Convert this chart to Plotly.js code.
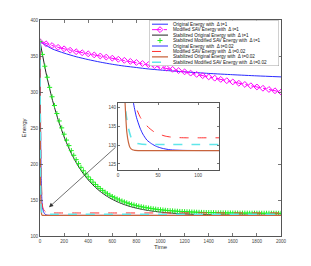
<!DOCTYPE html>
<html><head><meta charset="utf-8">
<script src="https://cdn.plot.ly/plotly-3.0.1.min.js"></script>
<style>html,body{margin:0;padding:0;background:#fff}#c{width:311px;height:266px}</style>
</head><body><div id="c"></div>
<script>
// ---- data ----
// dt = 1 series
const tBlue1 = [0,100,200,300,400,500,600,700,800,900,1000,1200,1400,1600,1800,2000];
const eBlue1 = [370,360,354,349,345,341.5,338.5,336,334,332,330.5,328,325.8,324,322.4,321];

const tMag1 = [0,50,100,150,200,250,300,350,400,450,500,550,600,650,700,750,800,850,900,950,1000,1050,1100,1150,1200,1250,1300,1350,1400,1450,1500,1550,1600,1650,1700,1750,1800,1850,1900,1950,2000];
const eMag1 = [370,367,364.5,362,360,358,356,354.5,353,351.5,350,348.5,347,345.5,344,342.5,341,339.5,338,336.5,335,333.2,331.5,329.7,328,326.2,324.5,322.7,321,319.2,317.5,315.7,314,312.2,310.5,308.7,307,305.2,303.5,301.7,300];

const tBlack1 = [0,50,100,150,200,250,300,350,400,450,500,550,600,650,700,750,800,850,900,950,1000,1100,1200,1300,1400,1500,1600,1700,1800,1900,2000];
const eBlack1 = [370,326.6,290.9,261.7,237.7,218.1,202,188.8,178,169.1,161.8,155.8,150.9,146.9,143.6,140.9,138.7,136.9,135.4,134.2,133.2,131.7,130.7,130,129.5,129.2,129,128.9,128.8,128.7,128.7];

const tGreen1 = [0,20,40,60,80,100,120,140,160,180,200,220,240,260,280,300,320,340,360,380,400,420,440,460,480,500,520,540,560,580,600,620,640,660,680,700,720,740,760,780,800,820,840,860,880,900,920,940,960,980,1000,1020,1040,1060,1080,1100,1120,1140,1160,1180,1200,1220,1240,1260,1280,1300,1320,1340,1360,1380,1400,1420,1440,1460,1480,1500,1520,1540,1560,1580,1600,1620,1640,1660,1680,1700,1720,1740,1760,1780,1800,1820,1840,1860,1880,1900,1920,1940,1960,1980,2000];
const eGreen1 = [370,352.2,335.8,320.5,306.4,293.4,281.3,270.1,259.8,250.2,241.4,233.2,225.6,218.6,212.1,206.1,200.5,195.3,190.6,186.2,182.1,178.3,174.8,171.6,168.6,165.8,163.3,160.9,158.7,156.7,154.8,153.1,151.5,150,148.6,147.3,146.1,145,144,143.1,142.2,141.4,140.7,140,139.4,138.8,138.3,137.7,137.3,136.8,136.4,136.1,135.7,135.4,135.1,134.9,134.6,134.4,134.1,134,133.8,133.6,133.5,133.3,133.2,133,132.9,132.8,132.7,132.6,132.5,132.4,132.4,132.3,132.2,132.2,132.1,132.1,132,132,131.9,131.9,131.9,131.8,131.8,131.8,131.8,131.7,131.7,131.7,131.7,131.7,131.6,131.6,131.6,131.6,131.6,131.6,131.6,131.5,131.5];

// dt = 0.02 series
const tBlue2 = [0,2,4,6,8,10,12,15,19,23,27.5,31,36,42,48,55,65,80,100,150,300,600,1000,1500,2000];
const eBlue2 = [370,320,270,230,200,180,165,152,141.7,137.5,134.6,133,131.4,130.4,129.7,129.2,128.8,128.65,128.6,128.6,128.6,128.6,128.6,128.6,128.6];

const tRed2 = [0,2,4,6,8,10,12,15,18,21,24,28,32,36,40,45,50,55,60,70,85,100,150,300,600,1000,1500,2000];
const eRed2 = [370,330,285,245,215,192,175,160,148,141.5,139.3,137.4,136.2,135.2,134.4,133.6,133.1,132.7,132.4,132.1,132,132,132,132,132,132,132,132];

const tBrown2 = [0,2,4,6,8,9,10,11,13,15,18,21,25,30,50,100,300,1000,2000];
const eBrown2 = [370,260,195,160,145,140.5,136.5,133.5,130.8,129.4,128.8,128.65,128.6,128.6,128.6,128.6,128.6,128.6,128.6];

const tCyan2 = [0,2,4,6,8,10,13,16,19,24,30,40,60,100,300,1000,2000];
const eCyan2 = [370,280,215,175,144.5,138.5,134.6,132.3,131.1,130.5,130.3,130.2,130.2,130.2,130.2,130.2,130.2];

const legendLabels = [
  "Original Energy with  \u0394 t=1",
  "Modified SAV Energy with  \u0394 t=1",
  "Stabilized Original Energy with  \u0394 t=1",
  "Stabilized Modified SAV Energy with  \u0394 t=1",
  "Original Energy with  \u0394 t=0.02",
  "Modified SAV Energy with  \u0394 t=0.02",
  "Stabilized Original Energy with  \u0394 t=0.02",
  "Stabilized Modified SAV Energy with  \u0394 t=0.02"
];

// ---- styles ----
const FONT = "Liberation Sans, Arial, sans-serif";
const styles = [
  {mode:'lines', line:{color:'#2a2aff', width:1}},
  {mode:'lines+markers', line:{color:'#ff00ff', width:1, dash:'dashdot'}, marker:{symbol:'diamond-open', size:4.5, color:'#ff00ff', line:{width:1, color:'#ff00ff'}}},
  {mode:'lines', line:{color:'#222222', width:1}},
  {mode:'markers', marker:{symbol:'cross-thin-open', size:3.6, color:'#22ee22', line:{width:1, color:'#22ee22'}}},
  {mode:'lines', line:{color:'#2a2aff', width:1}},
  {mode:'lines', line:{color:'#ff3030', width:1, dash:'dash'}},
  {mode:'lines', line:{color:'#c8643c', width:1.2}},
  {mode:'lines', line:{color:'#60e6ea', width:1.5, dash:'dash'}}
];

function tr(x, y, st, xa, ya, shape) {
  const t = Object.assign({x:x, y:y, xaxis:xa, yaxis:ya, showlegend:false, hoverinfo:'skip'}, JSON.parse(JSON.stringify(st)));
  if (t.line && shape) { t.line.shape = 'spline'; t.line.smoothing = 0.6; }
  return t;
}

const traces = [];
// main plot
traces.push(tr(tBlue1, eBlue1, styles[0], 'x', 'y', true));
traces.push(tr(tMag1, eMag1, styles[1], 'x', 'y', false));
traces.push(tr(tBlack1, eBlack1, styles[2], 'x', 'y', true));
traces.push(tr(tGreen1, eGreen1, styles[3], 'x', 'y', false));
traces.push(tr(tBlue2, eBlue2, styles[4], 'x', 'y', true));
traces.push(tr(tRed2, eRed2, styles[5], 'x', 'y', true));
traces.push(tr(tBrown2, eBrown2, styles[6], 'x', 'y', true));
traces.push(tr(tCyan2, eCyan2, styles[7], 'x', 'y', true));
// inset
traces.push(tr(tBlue2, eBlue2, styles[4], 'x2', 'y2', true));
traces.push(tr(tRed2, eRed2, styles[5], 'x2', 'y2', true));
traces.push(tr(tCyan2, eCyan2, styles[7], 'x2', 'y2', true));
traces.push(tr(tBrown2, eBrown2, styles[6], 'x2', 'y2', true));

// hand-made legend (swatches on a hidden axis measured in legend-box pixels)
const annotations = [];
for (let i = 0; i < legendLabels.length; i++) {
  const ry = 3.7 + 5.45 * i;
  const st = styles[i];
  if (st.mode.indexOf('lines') >= 0) {
    const s = JSON.parse(JSON.stringify(st)); s.mode = 'lines';
    traces.push(tr([3, 19], [ry, ry], s, 'x3', 'y3', false));
  }
  if (st.mode.indexOf('markers') >= 0) {
    const s = JSON.parse(JSON.stringify(st)); s.mode = 'markers';
    traces.push(tr([11], [ry], s, 'x3', 'y3', false));
  }
  annotations.push({xref:'x3', yref:'y3', x:22, y:ry, xanchor:'left', yanchor:'middle', text:legendLabels[i], showarrow:false, font:{family:FONT, size:4.6, color:'#111'}});
}
// arrow pointing to the zoomed region
annotations.push({xref:'x', yref:'y', x:75, y:140, axref:'x', ayref:'y', ax:639, ay:225, text:'', showarrow:true, arrowhead:2, arrowsize:1.2, arrowwidth:0.7, arrowcolor:'#333'});

const axCommon = {showgrid:false, zeroline:false, showline:true, mirror:'ticks', linecolor:'#555', linewidth:1, ticks:'inside', ticklen:3, tickcolor:'#555', tickwidth:0.8, tickfont:{family:FONT, size:4.6, color:'#444'}};

const layout = {
  width:311, height:266,
  margin:{l:40, r:30, t:20, b:30, pad:0},
  paper_bgcolor:'#fff', plot_bgcolor:'#fff',
  showlegend:false,
  xaxis: Object.assign({}, axCommon, {domain:[0,1], range:[0,2000], dtick:200, tick0:0, anchor:'y', title:{text:'Time', font:{family:FONT, size:6, color:'#333'}, standoff:1}}),
  yaxis: Object.assign({}, axCommon, {domain:[0,1], range:[100,400], dtick:50, tick0:100, anchor:'x', title:{text:'Energy', font:{family:FONT, size:6, color:'#333'}, standoff:3}}),
  xaxis2: Object.assign({}, axCommon, {domain:[0.3237,0.7427], range:[0,126], dtick:50, tick0:0, anchor:'y2', ticklen:2}),
  yaxis2: Object.assign({}, axCommon, {domain:[0.3056,0.6157], range:[123.4,141.3], dtick:5, tick0:125, anchor:'x2', ticklen:2}),
  xaxis3: {domain:[0.4523,0.9917], range:[0,130], visible:false, fixedrange:true, anchor:'y3'},
  yaxis3: {domain:[0.787,0.9977], range:[45.5,0], visible:false, fixedrange:true, anchor:'x3'},
  shapes:[
    {type:'rect', xref:'x2 domain', yref:'y2 domain', x0:0, x1:1, y0:0, y1:1, fillcolor:'#fff', line:{width:0}, layer:'below'},
    {type:'rect', xref:'x3', yref:'y3', x0:0, x1:130, y0:0, y1:45.5, fillcolor:'#fff', line:{color:'#888', width:0.8}, layer:'below'}
  ],
  annotations: annotations
};

Plotly.newPlot('c', traces, layout, {staticPlot:true, displayModeBar:false});
</script></body></html>
